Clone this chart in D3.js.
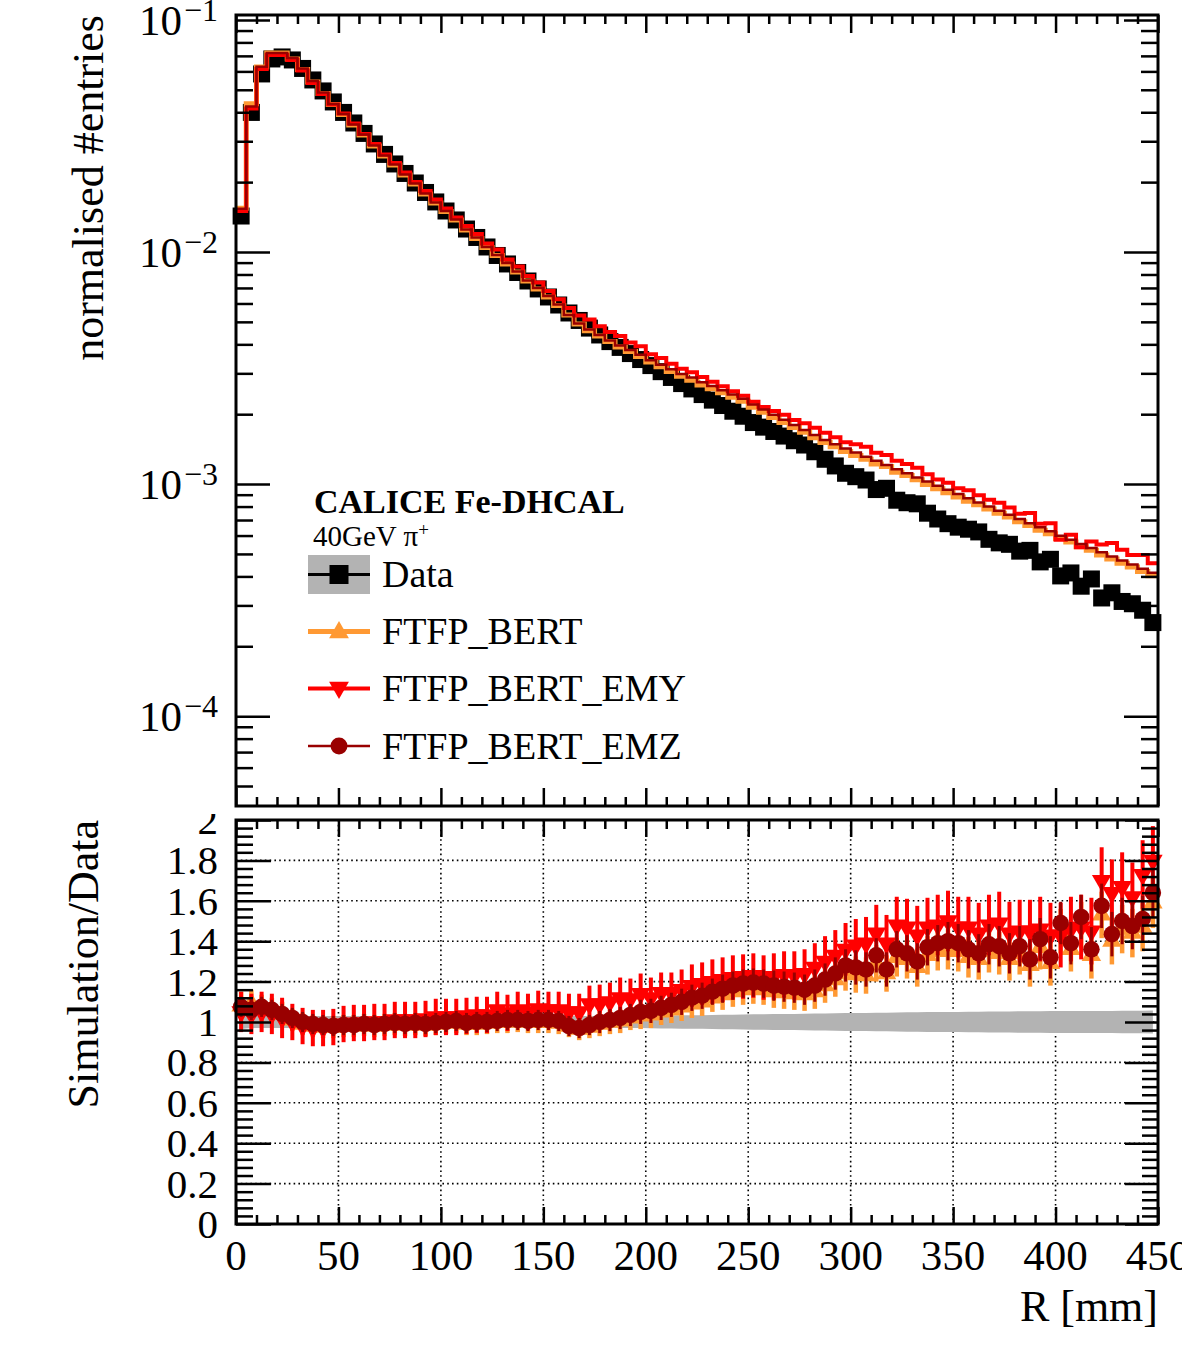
<!DOCTYPE html>
<html>
<head>
<meta charset="utf-8">
<script src="https://cdn.jsdelivr.net/npm/d3@7"></script>
<style>
  body { margin: 0; background: #fff; }
  svg text { font-family: 'Liberation Serif', 'Times New Roman', serif; fill: #000; }
</style>
</head>
<body>
<svg id="chart" width="1182" height="1361"></svg>
<script>
// radial bins of 5 mm, 0 - 450 mm
const binWidth = 5
const binEdges = d3.range(0, 450, binWidth)

// normalised #entries, data (black squares)
const dataValues = [
  0.01429, 0.03994, 0.05851, 0.06789, 0.06925, 0.06722, 0.06179, 0.05512, 0.04943, 0.04431,
  0.03994, 0.03597, 0.03243, 0.02921, 0.02633, 0.02395, 0.02180, 0.01983, 0.01805, 0.01643,
  0.01502, 0.01374, 0.01256, 0.01155, 0.01051, 0.00966, 0.00888, 0.00816, 0.00750, 0.00693,
  0.00640, 0.00591, 0.00546, 0.00507, 0.00470, 0.00439, 0.00411, 0.00388, 0.00365, 0.00344,
  0.00324, 0.00305, 0.00288, 0.00271, 0.00257, 0.00243, 0.00230, 0.00218, 0.00206, 0.00196,
  0.001841, 0.001759, 0.001685, 0.001610, 0.001537, 0.001473, 0.001378, 0.001279, 0.001197, 0.001113,
  0.001076, 0.001041, 0.000947, 0.000959, 0.000852, 0.000831, 0.000822, 0.000749, 0.000707, 0.000675,
  0.000652, 0.000639, 0.000622, 0.000578, 0.000558, 0.000550, 0.000514, 0.000518, 0.000462, 0.000474,
  0.000402, 0.000414, 0.000363, 0.000390, 0.000323, 0.000340, 0.000312, 0.000305, 0.000286, 0.000253
]

// relative uncertainty of data (grey band)
const dataRelErr = [
  0.035, 0.03, 0.03, 0.03, 0.03, 0.03, 0.03, 0.03, 0.03, 0.03,
  0.03, 0.03, 0.03, 0.03, 0.03, 0.03, 0.03, 0.03, 0.03, 0.03,
  0.03, 0.03, 0.03, 0.03, 0.03, 0.03, 0.03, 0.03, 0.03, 0.03,
  0.03, 0.03, 0.03, 0.03, 0.03, 0.03, 0.03, 0.03, 0.03, 0.03,
  0.031, 0.032, 0.032, 0.033, 0.034, 0.034, 0.035, 0.036, 0.036, 0.037,
  0.038, 0.038, 0.039, 0.04, 0.04, 0.041, 0.042, 0.042, 0.043, 0.044,
  0.044, 0.045, 0.046, 0.046, 0.047, 0.048, 0.048, 0.049, 0.05, 0.05,
  0.05, 0.051, 0.051, 0.052, 0.052, 0.052, 0.053, 0.053, 0.053, 0.054,
  0.054, 0.054, 0.055, 0.055, 0.055, 0.055, 0.056, 0.056, 0.056, 0.057
]

// simulation / data
const ratioBert = [
  1.08, 1.09, 1.07, 1.06, 1.04, 1.01, 0.99, 0.98, 0.975, 0.975,
  0.98, 0.98, 0.985, 0.98, 0.985, 0.99, 0.985, 0.99, 0.985, 0.99,
  0.995, 1.0, 0.99, 0.99, 0.995, 1.0, 1.0, 1.005, 1.0, 1.0,
  1.0, 0.995, 0.98, 0.965, 0.975, 0.99, 1.0, 1.005, 1.02, 1.03,
  1.035, 1.05, 1.06, 1.075, 1.09, 1.10, 1.12, 1.135, 1.15, 1.16,
  1.165, 1.16, 1.15, 1.145, 1.14, 1.135, 1.15, 1.18, 1.21, 1.24,
  1.235, 1.23, 1.29, 1.24, 1.32, 1.31, 1.27, 1.33, 1.35, 1.36,
  1.35, 1.32, 1.31, 1.35, 1.34, 1.31, 1.34, 1.28, 1.37, 1.29,
  1.45, 1.36, 1.48, 1.33, 1.53, 1.40, 1.46, 1.44, 1.47, 1.59
]
const ratioEmy = [
  1.05, 1.04, 1.05, 1.04, 1.02, 1.0, 0.98, 0.97, 0.97, 0.975,
  0.99, 0.995, 0.995, 1.0, 1.0, 1.01, 1.01, 1.01, 1.015, 1.025,
  1.025, 1.025, 1.03, 1.035, 1.035, 1.06, 1.045, 1.06, 1.05, 1.065,
  1.06, 1.06, 1.05, 1.05, 1.09, 1.09, 1.10, 1.12, 1.115, 1.14,
  1.12, 1.145, 1.145, 1.16, 1.18, 1.19, 1.20, 1.21, 1.22, 1.225,
  1.23, 1.22, 1.225, 1.235, 1.23, 1.24, 1.27, 1.30, 1.33, 1.36,
  1.38, 1.39, 1.44, 1.39, 1.48, 1.47, 1.43, 1.47, 1.48, 1.50,
  1.47, 1.47, 1.44, 1.48, 1.49, 1.44, 1.45, 1.45, 1.46, 1.43,
  1.43, 1.46, 1.47, 1.45, 1.70, 1.64, 1.67, 1.62, 1.73, 1.80
]
const ratioEmz = [
  1.075, 1.06, 1.075, 1.06, 1.04, 1.02, 1.0, 0.99, 0.985, 0.98,
  0.985, 0.985, 0.99, 0.985, 0.99, 0.995, 0.99, 0.995, 0.99, 0.995,
  1.0, 1.005, 0.995, 1.0, 1.0, 1.005, 1.01, 1.01, 1.005, 1.01,
  1.01, 1.005, 0.98, 0.97, 0.985, 1.0, 1.01, 1.02, 1.035, 1.05,
  1.055, 1.07, 1.085, 1.10, 1.12, 1.13, 1.15, 1.165, 1.18, 1.19,
  1.195, 1.19, 1.18, 1.175, 1.17, 1.16, 1.18, 1.21, 1.24, 1.28,
  1.27, 1.26, 1.33, 1.26, 1.36, 1.34, 1.30, 1.37, 1.39, 1.40,
  1.39, 1.36, 1.34, 1.385, 1.375, 1.34, 1.375, 1.31, 1.41, 1.32,
  1.49, 1.39, 1.52, 1.36, 1.575, 1.435, 1.50, 1.475, 1.51, 1.64
]

// ratio uncertainties
const errBert = [
  0.07, 0.07, 0.065, 0.06, 0.06, 0.055, 0.055, 0.055, 0.055, 0.055,
  0.055, 0.055, 0.055, 0.055, 0.055, 0.055, 0.055, 0.055, 0.055, 0.055,
  0.055, 0.055, 0.055, 0.055, 0.055, 0.055, 0.055, 0.055, 0.055, 0.055,
  0.055, 0.055, 0.055, 0.055, 0.055, 0.06, 0.06, 0.06, 0.06, 0.065,
  0.065, 0.065, 0.065, 0.07, 0.07, 0.07, 0.07, 0.075, 0.075, 0.075,
  0.075, 0.075, 0.08, 0.08, 0.08, 0.08, 0.085, 0.085, 0.085, 0.085,
  0.09, 0.09, 0.09, 0.09, 0.095, 0.095, 0.095, 0.095, 0.095, 0.10,
  0.10, 0.10, 0.10, 0.105, 0.105, 0.105, 0.105, 0.105, 0.11, 0.11,
  0.11, 0.11, 0.115, 0.115, 0.115, 0.115, 0.12, 0.12, 0.12, 0.125
]
const errEmy = [
  0.10, 0.10, 0.10, 0.10, 0.10, 0.09, 0.09, 0.09, 0.09, 0.09,
  0.09, 0.09, 0.09, 0.09, 0.09, 0.09, 0.09, 0.09, 0.09, 0.09,
  0.09, 0.09, 0.09, 0.09, 0.09, 0.09, 0.09, 0.09, 0.09, 0.09,
  0.09, 0.09, 0.09, 0.09, 0.09, 0.095, 0.095, 0.10, 0.10, 0.10,
  0.10, 0.10, 0.10, 0.10, 0.105, 0.105, 0.11, 0.11, 0.11, 0.11,
  0.11, 0.11, 0.115, 0.115, 0.12, 0.12, 0.12, 0.125, 0.125, 0.13,
  0.13, 0.13, 0.14, 0.14, 0.14, 0.14, 0.145, 0.145, 0.15, 0.15,
  0.15, 0.15, 0.15, 0.15, 0.155, 0.155, 0.155, 0.155, 0.16, 0.16,
  0.16, 0.16, 0.16, 0.165, 0.165, 0.165, 0.17, 0.17, 0.17, 0.17
]
const errEmz = [
  0.05, 0.05, 0.05, 0.05, 0.05, 0.05, 0.05, 0.05, 0.05, 0.05,
  0.05, 0.05, 0.05, 0.05, 0.05, 0.05, 0.05, 0.05, 0.05, 0.05,
  0.05, 0.05, 0.05, 0.05, 0.05, 0.05, 0.05, 0.05, 0.05, 0.05,
  0.05, 0.05, 0.05, 0.05, 0.05, 0.055, 0.055, 0.055, 0.055, 0.06,
  0.06, 0.06, 0.06, 0.065, 0.065, 0.065, 0.065, 0.07, 0.07, 0.07,
  0.07, 0.07, 0.075, 0.075, 0.075, 0.075, 0.08, 0.08, 0.08, 0.08,
  0.085, 0.085, 0.085, 0.085, 0.09, 0.09, 0.09, 0.09, 0.09, 0.095,
  0.095, 0.095, 0.095, 0.10, 0.10, 0.10, 0.10, 0.10, 0.105, 0.105,
  0.105, 0.105, 0.11, 0.11, 0.11, 0.11, 0.115, 0.115, 0.115, 0.12
]

const seriesNames = ['FTFP_BERT', 'FTFP_BERT_EMY', 'FTFP_BERT_EMZ']
const seriesColours = ['#ff9933', '#ff0000', '#990000']

const xTickLabels = [0, 50, 100, 150, 200, 250, 300, 350, 400, 450]
const ratioTickLabels = [0, 0.2, 0.4, 0.6, 0.8, 1, 1.2, 1.4, 1.6, 1.8, 2]
const logTickLabels = [1e-4, 1e-3, 1e-2, 1e-1]

// ---- layout ----
const svg = d3.select('#chart')
const fontSize = 43

const padTop = {left: 236, right: 1158, top: 15, bottom: 806}
const padRatio = {left: 236, right: 1158, top: 820, bottom: 1224}

const x = d3.scaleLinear().domain([0, 450]).range([padTop.left, padTop.right])
const yTop = d3.scaleLog().domain([4.1e-5, 0.105]).range([padTop.bottom, padTop.top])
const yRatio = d3.scaleLinear().domain([0, 2]).range([padRatio.bottom, padRatio.top])

const series = [
  {name: seriesNames[0], colour: seriesColours[0], ratio: ratioBert, err: errBert, marker: 'up', histWidth: 5, barWidth: 4.5},
  {name: seriesNames[1], colour: seriesColours[1], ratio: ratioEmy, err: errEmy, marker: 'down', histWidth: 4, barWidth: 4},
  {name: seriesNames[2], colour: seriesColours[2], ratio: ratioEmz, err: errEmz, marker: 'circle', histWidth: 2.5, barWidth: 3}
]
// simulated histograms, from the ratio to data
series.forEach(s => { s.values = dataValues.map((d, i) => d * s.ratio[i]) })

const centre = i => x(binEdges[i] + binWidth / 2)

function markerPath(kind, size) {
  if (kind === 'circle') return d3.symbol().type(d3.symbolCircle).size(size)()
  return d3.symbol().type(d3.symbolTriangle).size(size)()
}
function markerTransform(kind, cx, cy) {
  return kind === 'down' ? `translate(${cx},${cy}) rotate(180)` : `translate(${cx},${cy})`
}

function ticks(g, axisFn, scale, values, size, transform) {
  g.append('g')
    .attr('transform', transform)
    .call(axisFn(scale).tickValues(values).tickSize(size).tickFormat(''))
    .call(a => a.select('.domain').remove())
    .call(a => a.selectAll('text').remove())
    .selectAll('line').attr('stroke', '#000').attr('stroke-width', 2.5)
}

const defs = svg.append('defs')
defs.append('clipPath').attr('id', 'clipTop')
  .append('rect').attr('x', padTop.left).attr('y', padTop.top)
  .attr('width', padTop.right - padTop.left).attr('height', padTop.bottom - padTop.top)
defs.append('clipPath').attr('id', 'clipRatioLabels')
  .append('rect').attr('x', 0).attr('y', 814).attr('width', padRatio.left).attr('height', 600)

// ================= upper pad =================
const gTop = svg.append('g')

// data squares
gTop.append('g').selectAll('rect').data(dataValues).join('rect')
  .attr('x', (d, i) => centre(i) - 8.5)
  .attr('y', d => yTop(d) - 8.5)
  .attr('width', 17).attr('height', 17)
  .attr('fill', '#000')

// simulation histograms (steps)
const stepLine = d3.line().curve(d3.curveStepAfter)
series.forEach(s => {
  const pts = s.values.map((v, i) => [x(binEdges[i]), yTop(v)])
  pts.push([x(450), yTop(s.values[s.values.length - 1])])
  gTop.append('path')
    .attr('clip-path', 'url(#clipTop)')
    .attr('d', stepLine(pts))
    .attr('fill', 'none')
    .attr('stroke', s.colour)
    .attr('stroke-width', s.histWidth)
})

// upper frame ticks
const xMajor = d3.range(0, 451, 50)
const xMinor = d3.range(0, 451, 10).filter(d => d % 50 !== 0)
ticks(gTop, d3.axisTop, x, xMajor, 18, `translate(0,${padTop.bottom})`)
ticks(gTop, d3.axisTop, x, xMinor, 9, `translate(0,${padTop.bottom})`)
ticks(gTop, d3.axisBottom, x, xMajor, 18, `translate(0,${padTop.top})`)
ticks(gTop, d3.axisBottom, x, xMinor, 9, `translate(0,${padTop.top})`)

const logMinor = []
;[-5, -4, -3, -2, -1].forEach(e => {
  for (let k = 2; k <= 9; k++) {
    const v = k * Math.pow(10, e)
    if (v > 4.1e-5 && v < 0.105) logMinor.push(v)
  }
})
ticks(gTop, d3.axisRight, yTop, logTickLabels, 34, `translate(${padTop.left},0)`)
ticks(gTop, d3.axisRight, yTop, logMinor, 17, `translate(${padTop.left},0)`)
ticks(gTop, d3.axisLeft, yTop, logTickLabels, 34, `translate(${padTop.right},0)`)
ticks(gTop, d3.axisLeft, yTop, logMinor, 17, `translate(${padTop.right},0)`)

gTop.append('rect')
  .attr('x', padTop.left).attr('y', padTop.top)
  .attr('width', padTop.right - padTop.left).attr('height', padTop.bottom - padTop.top)
  .attr('fill', 'none').attr('stroke', '#000').attr('stroke-width', 3)

// log labels 10^n
const logLabel = gTop.append('g').selectAll('text').data(logTickLabels).join('text')
  .attr('x', 218)
  .attr('y', d => yTop(d) + 15)
  .attr('text-anchor', 'end')
  .attr('font-size', fontSize)
logLabel.append('tspan').text('10')
logLabel.append('tspan')
  .attr('dy', -14)
  .attr('dx', 2)
  .attr('font-size', 32)
  .text(d => '\u2212' + Math.round(-Math.log10(d)))

svg.append('text')
  .attr('transform', 'translate(103,15) rotate(-90)')
  .attr('text-anchor', 'end')
  .attr('font-size', 44)
  .text('normalised #entries')

// legend
const gLeg = svg.append('g')
gLeg.append('text').attr('x', 314).attr('y', 513)
  .attr('font-size', 34).attr('font-weight', 'bold')
  .text('CALICE Fe-DHCAL')
const beam = gLeg.append('text').attr('x', 313).attr('y', 546).attr('font-size', 29)
beam.append('tspan').text('40GeV \u03c0')
beam.append('tspan').attr('dy', -10).attr('font-size', 19).text('+')

const legX0 = 308, legX1 = 370, legXm = 339, legText = 382
// data entry
gLeg.append('rect').attr('x', legX0).attr('y', 555).attr('width', legX1 - legX0).attr('height', 39).attr('fill', '#b3b3b3')
gLeg.append('line').attr('x1', legX0).attr('x2', legX1).attr('y1', 574.5).attr('y2', 574.5).attr('stroke', '#000').attr('stroke-width', 3)
gLeg.append('rect').attr('x', legXm - 9.5).attr('y', 574.5 - 9.5).attr('width', 19).attr('height', 19).attr('fill', '#000')
gLeg.append('text').attr('x', legText).attr('y', 587).attr('font-size', 38).text('Data')

const legRows = [631.5, 688.5, 746]
series.forEach((s, i) => {
  const cy = legRows[i]
  gLeg.append('line').attr('x1', legX0).attr('x2', legX1).attr('y1', cy).attr('y2', cy)
    .attr('stroke', s.colour).attr('stroke-width', s.histWidth)
  gLeg.append('path')
    .attr('d', markerPath(s.marker, s.marker === 'circle' ? 225 : 170))
    .attr('transform', markerTransform(s.marker, legXm, cy + (s.marker === 'up' ? 1 : s.marker === 'down' ? -1 : 0)))
    .attr('fill', s.colour)
  gLeg.append('text').attr('x', legText).attr('y', cy + 12.5).attr('font-size', 38).text(s.name)
})

// ================= ratio pad =================
const gRat = svg.append('g')

// grid
const gridY = [0.2, 0.4, 0.6, 0.8, 1, 1.2, 1.4, 1.6, 1.8]
const gridX = [50, 100, 150, 200, 250, 300, 350, 400]
gRat.append('g').selectAll('line').data(gridX).join('line')
  .attr('x1', d => x(d)).attr('x2', d => x(d))
  .attr('y1', padRatio.top).attr('y2', padRatio.bottom)
  .attr('stroke', '#000').attr('stroke-width', 1.6).attr('stroke-dasharray', '1.6 3.2')
gRat.append('g').selectAll('line').data(gridY).join('line')
  .attr('x1', padRatio.left).attr('x2', padRatio.right)
  .attr('y1', d => yRatio(d)).attr('y2', d => yRatio(d))
  .attr('stroke', '#000').attr('stroke-width', 1.6).attr('stroke-dasharray', '1.6 3.2')

// data uncertainty band
gRat.append('path')
  .datum(dataRelErr)
  .attr('d', d3.area()
    .x((d, i) => centre(i))
    .y0(d => yRatio(1 - d))
    .y1(d => yRatio(1 + d)))
  .attr('fill', '#b3b3b3')

// simulation / data points
series.forEach(s => {
  const g = gRat.append('g')
  g.selectAll('line').data(s.ratio).join('line')
    .attr('x1', (d, i) => centre(i)).attr('x2', (d, i) => centre(i))
    .attr('y1', (d, i) => yRatio(Math.max(0, d - s.err[i])))
    .attr('y2', (d, i) => yRatio(Math.min(2, d + s.err[i])))
    .attr('stroke', s.colour).attr('stroke-width', s.barWidth)
  g.selectAll('path').data(s.ratio).join('path')
    .attr('d', markerPath(s.marker, s.marker === 'circle' ? 215 : 165))
    .attr('transform', (d, i) => markerTransform(s.marker, centre(i), yRatio(d)))
    .attr('fill', s.colour)
})

// ratio frame ticks
const rMinor = d3.range(0, 2.001, 0.04).filter(d => Math.abs(d * 5 - Math.round(d * 5)) > 1e-6)
ticks(gRat, d3.axisTop, x, xMajor, 17, `translate(0,${padRatio.bottom})`)
ticks(gRat, d3.axisTop, x, xMinor, 9, `translate(0,${padRatio.bottom})`)
ticks(gRat, d3.axisBottom, x, xMajor, 17, `translate(0,${padRatio.top})`)
ticks(gRat, d3.axisBottom, x, xMinor, 9, `translate(0,${padRatio.top})`)
ticks(gRat, d3.axisRight, yRatio, ratioTickLabels, 35, `translate(${padRatio.left},0)`)
ticks(gRat, d3.axisRight, yRatio, rMinor, 17, `translate(${padRatio.left},0)`)
ticks(gRat, d3.axisLeft, yRatio, ratioTickLabels, 33, `translate(${padRatio.right},0)`)
ticks(gRat, d3.axisLeft, yRatio, rMinor, 16, `translate(${padRatio.right},0)`)

gRat.append('rect')
  .attr('x', padRatio.left).attr('y', padRatio.top)
  .attr('width', padRatio.right - padRatio.left).attr('height', padRatio.bottom - padRatio.top)
  .attr('fill', 'none').attr('stroke', '#000').attr('stroke-width', 3)

// tick labels
gRat.append('g').attr('clip-path', 'url(#clipRatioLabels)')
  .selectAll('text').data(ratioTickLabels).join('text')
  .attr('x', 218)
  .attr('y', d => yRatio(d) + 14)
  .attr('text-anchor', 'end')
  .attr('font-size', 41)
  .text(d => d)

gRat.append('g').selectAll('text').data(xTickLabels).join('text')
  .attr('x', d => x(d))
  .attr('y', 1270)
  .attr('text-anchor', 'middle')
  .attr('font-size', fontSize)
  .text(d => d)

svg.append('text')
  .attr('transform', `translate(98,${padRatio.top}) rotate(-90)`)
  .attr('text-anchor', 'end')
  .attr('font-size', 44)
  .text('Simulation/Data')

svg.append('text')
  .attr('x', padRatio.right)
  .attr('y', 1321)
  .attr('text-anchor', 'end')
  .attr('font-size', 44)
  .text('R [mm]')
</script>
</body>
</html>
